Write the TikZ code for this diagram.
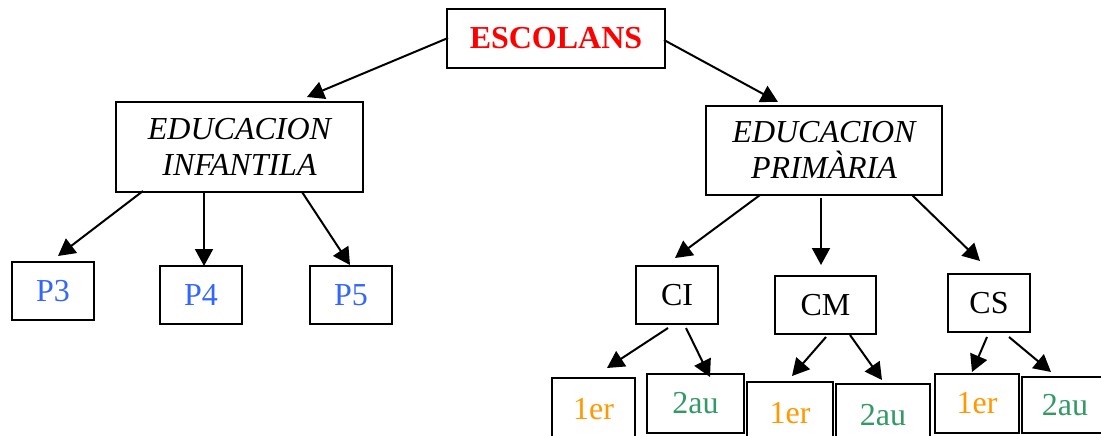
\documentclass[tikz,border=0pt]{standalone}
\usepackage{fontspec}
\setmainfont{Liberation Serif}
\usetikzlibrary{arrows.meta}
\definecolor{escred}{HTML}{FF0000}
\definecolor{pblue}{HTML}{3366FF}
\definecolor{ordorange}{HTML}{FF9900}
\definecolor{ordgreen}{HTML}{339966}
\tikzset{
  box/.style={draw=black, line width=2pt, rectangle, inner sep=0pt, font=\fontsize{32}{36}\selectfont, align=center},
  arr/.style={draw=black, line width=2pt, -{Triangle[length=17pt,width=18pt]}},
}
\begin{document}
\begin{tikzpicture}[x=1pt,y=-1pt]
\useasboundingbox (0,0) rectangle (1101,436);
% boxes
\node[box, minimum width=218pt, minimum height=59pt, text=escred, font=\fontsize{32}{36}\selectfont\bfseries] (esc) at (556,38.5) {ESCOLANS};
\node[box, minimum width=247pt, minimum height=90pt, font=\fontsize{32}{36}\selectfont\itshape] (ei) at (239.5,147) {EDUCACION\\INFANTILA};
\node[box, minimum width=236pt, minimum height=89pt, font=\fontsize{32}{36}\selectfont\itshape] (ep) at (824,150) {EDUCACION\\PRIMÀRIA};
\node[box, minimum width=82pt, minimum height=58pt, text=pblue] (p3) at (53,291) {P3};
\node[box, minimum width=82pt, minimum height=58pt, text=pblue] (p4) at (201,295) {P4};
\node[box, minimum width=82pt, minimum height=58pt, text=pblue] (p5) at (351,295) {P5};
\node[box, minimum width=82pt, minimum height=58pt] (ci) at (677,295) {CI};
\node[box, minimum width=101pt, minimum height=58pt] (cm) at (825.5,305) {CM};
\node[box, minimum width=82pt, minimum height=58pt] (cs) at (989,303) {CS};
\node[box, minimum width=83pt, minimum height=62pt, text=ordorange] (ci1) at (593.5,409) {1er};
\node[box, minimum width=97pt, minimum height=59pt, text=ordgreen] (ci2) at (695.5,403.5) {2au};
\node[box, minimum width=86pt, minimum height=62pt, text=ordorange] (cm1) at (790,413) {1er};
\node[box, minimum width=94pt, minimum height=62pt, text=ordgreen] (cm2) at (883,415) {2au};
\node[box, minimum width=84pt, minimum height=59pt, text=ordorange] (cs1) at (977,403.5) {1er};
\node[box, minimum width=100pt, minimum height=56pt, text=ordgreen] (cs2) at (1072,405) {\hspace*{-14pt}2au};
% arrow start/end points
\coordinate (s1) at (448,38);  \coordinate (t1) at (307,97);
\coordinate (s2) at (664,40);  \coordinate (t2) at (778,102);
\coordinate (s3) at (143,191); \coordinate (t3) at (58,256);
\coordinate (s4) at (204,191); \coordinate (t4) at (204,266);
\coordinate (s5) at (302,192); \coordinate (t5) at (350,265);
\coordinate (s6) at (760,195); \coordinate (t6) at (675,258);
\coordinate (s7) at (821,198); \coordinate (t7) at (821,265);
\coordinate (s8) at (912,195); \coordinate (t8) at (980,261);
\coordinate (s9) at (668,328); \coordinate (t9) at (607,368);
\coordinate (s10) at (686,328); \coordinate (t10) at (710,377);
\coordinate (s11) at (826,337); \coordinate (t11) at (792,376);
\coordinate (s12) at (850,335); \coordinate (t12) at (882,380);
\coordinate (s13) at (987,337); \coordinate (t13) at (972,372);
\coordinate (s14) at (1009,337); \coordinate (t14) at (1051,372);
\foreach \i in {1,...,14} { \draw[arr] (s\i) -- (t\i); }
\end{tikzpicture}
\end{document}
